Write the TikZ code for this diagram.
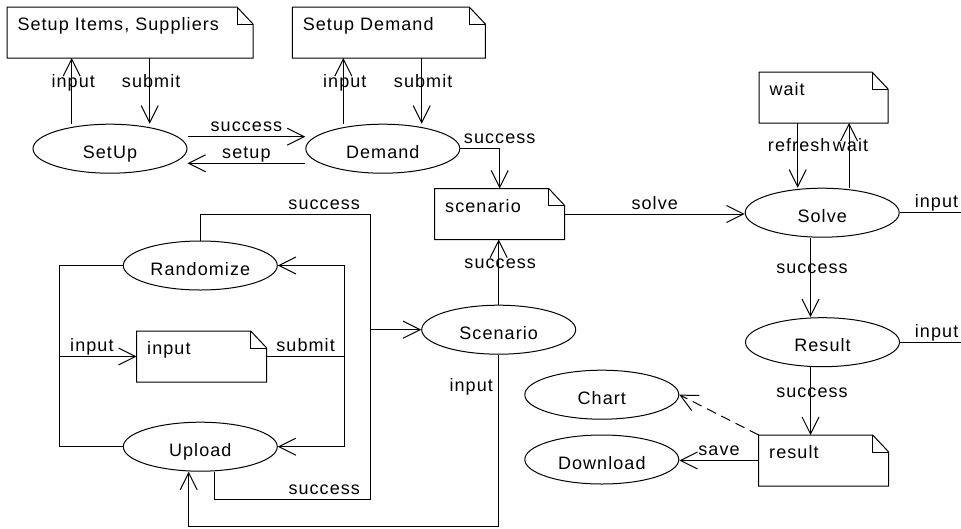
\documentclass[tikz,border=0pt]{standalone}
\usepackage{fontspec}
\setmainfont{Liberation Sans}[LetterSpace=6]
\usetikzlibrary{shapes.geometric,arrows.meta}
\tikzset{
    usecase/.style={draw, ellipse, minimum width=154pt, minimum height=49pt, inner sep=0pt, text height=19pt, text depth=0pt},
    notebox/.style={anchor=north west, text width=#1, align=left, inner xsep=10pt, inner ysep=0pt, text height=23pt, text depth=27pt},
    flow/.style={-{Straight Barb[length=17pt, width=17pt]}},
    hlabel/.style={anchor=base, yshift=5pt},
    vlabel/.style={anchor=base, yshift=3.6pt, xshift=1.5pt}
}

\begin{document}
\begin{tikzpicture}[x=1pt, y=-1pt, line width=1pt, every node/.style={font=\fontsize{18}{21}\selectfont}]
            \useasboundingbox (0,0) rectangle (961,528);
            % use cases
            \node[usecase] (setup) at (110,148.7) {SetUp};
            \node[usecase] (demand) at (382.8,148.7) {Demand};
            \node[usecase] (randomize) at (200.3,265.5) {Randomize};
            \node[usecase] (upload) at (200.3,446.7) {Upload};
            \node[usecase] (scen) at (498.7,329.7) {Scenario};
            \node[usecase] (solve) at (822.2,212.7) {Solve};
            \node[usecase] (result) at (822.5,342.2) {Result};
            \node[usecase] (chart) at (601.8,394.7) {Chart};
            \node[usecase] (download) at (601.8,459.5) {Download};
            % pages
            \node[notebox=225pt] (items) at (7,7) {Setup Items, Suppliers};
            \node[notebox=172pt] (dnote) at (292.3,7) {Setup Demand};
            \node[notebox=109pt] (snote) at (434.7,188.5) {scenario};
            \node[notebox=108pt] (wnote) at (759,72) {wait};
            \node[notebox=109pt] (inote) at (136.7,331) {input};
            \node[notebox=109pt] (rnote) at (758.7,435) {result};
            \foreach \n in {items,dnote,snote,wnote,inote,rnote}{
                \draw (\n.north west) -- ([xshift=-16pt]\n.north east) -- ([yshift=-17pt]\n.north east) |- (\n.south west) -- cycle;
                \draw ([xshift=-16pt]\n.north east) |- ([yshift=-17pt]\n.north east);
            }
            % setup and demand
            \draw[flow] ([xshift=-38.3pt]setup.north) -- node[vlabel]{input} ([xshift=-38.3pt]setup.north |- items.south);
            \draw[flow] ([xshift=39.7pt]setup.north |- items.south) -- node[vlabel]{submit} ([xshift=39.7pt]setup.north);
            \draw[flow] ([xshift=-39.5pt]demand.north) -- node[vlabel]{input} ([xshift=-39.5pt]demand.north |- dnote.south);
            \draw[flow] ([xshift=38.9pt]demand.north |- dnote.south) -- node[vlabel]{submit} ([xshift=38.9pt]demand.north);
            \draw[flow] ([yshift=12pt]setup.east) -- node[hlabel]{success} ([yshift=12pt]demand.west);
            \draw[flow] ([yshift=-14.6pt]demand.west) -- node[hlabel]{setup} ([yshift=-14.6pt]setup.east);
            \draw[flow] (demand.east) -| node[hlabel, pos=0.5]{success} (snote.north);
            % scenario
            \coordinate (mergeL) at (inote.west -| 59.5,0);
            \coordinate (splitR) at (inote.east -| 344.5,0);
            \coordinate (mergeR) at (scen.west -| 370.5,0);
            \draw (randomize.west) -| (mergeL);
            \draw (upload.west) -| (mergeL);
            \draw[flow] (mergeL) -- node[hlabel, pos=0.42]{input} (inote.west);
            \draw (inote.east) -- node[hlabel]{submit} (splitR);
            \draw[flow] (splitR) |- (randomize.east);
            \draw[flow] (splitR) |- (upload.east);
            \draw (randomize.north) |- node[hlabel, pos=0.864]{success} (mergeR |- 0,214.5) -- (mergeR);
            \draw ([xshift=14pt]upload.south) |- node[hlabel, pos=0.852]{success} (mergeR |- 0,499.5) -- (mergeR);
            \draw[flow] (mergeR) -- (scen.west);
            \draw[flow] (scen.north) -- node[vlabel]{success} (scen.north |- snote.south);
            \draw[flow] (scen.south) -- node[pos=0.19, left, xshift=-2pt]{input} (scen.south |- 0,526) -| ([xshift=-11.6pt]upload.south);
            \draw[flow] (snote.east) -- node[hlabel]{solve} (snote.east -| solve.west);
            % solve and result
            \draw[flow] ([xshift=-24.5pt]solve.north |- wnote.south) -- node[vlabel]{refresh} ([xshift=-24.5pt]solve.north);
            \draw[flow] ([xshift=26.8pt]solve.north) -- node[vlabel]{wait} ([xshift=26.8pt]solve.north |- wnote.south);
            \draw[flow] ([xshift=-11.7pt]solve.south) -- node[vlabel]{success} ([xshift=-11.7pt]solve.south |- result.north);
            \draw[flow] ([xshift=-12pt]result.south) -- node[vlabel]{success} ([xshift=-12pt]result.south |- rnote.north);
            \coordinate (solveout) at (solve.east -| 961,0);
            \coordinate (resultout) at (result.east -| 961,0);
            \draw (solve.east) -- node[hlabel, pos=0.6]{input} (solveout);
            \draw (result.east) -- node[hlabel, pos=0.6]{input} (resultout);
            \draw[flow] (rnote.west) -- node[hlabel]{save} (rnote.west -| download.east);
            \draw[flow, dash pattern=on 10pt off 6pt] (rnote.north west) -- (chart.east);
        \end{tikzpicture}
\end{document}
